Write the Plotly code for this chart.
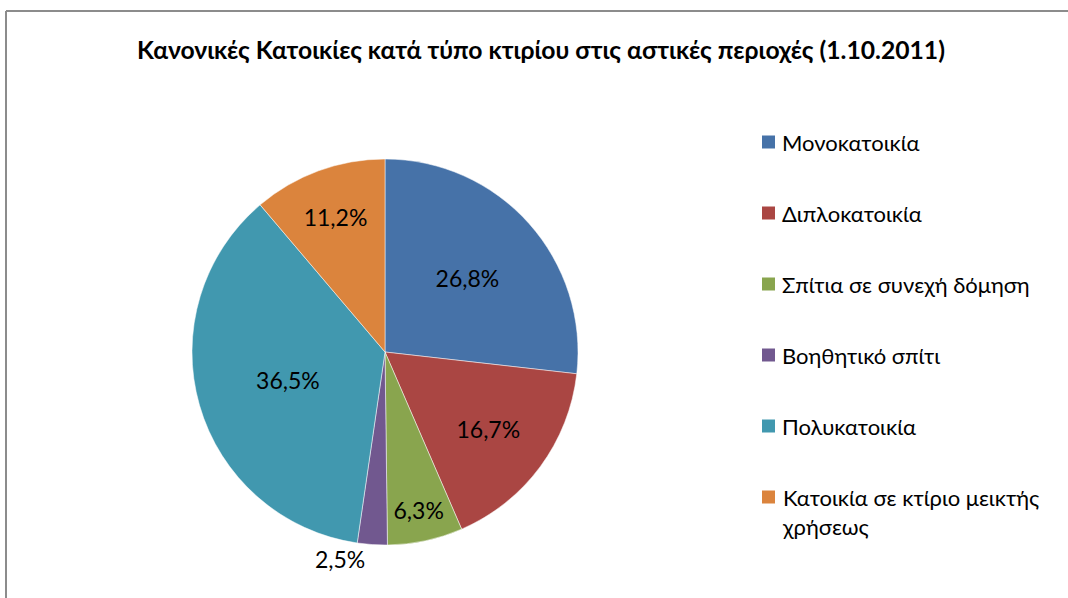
import plotly.graph_objects as go

TITLE = "Κανονικές Κατοικίες κατά τύπο κτιρίου στις αστικές περιοχές (1.10.2011)"
LABELS = ["Μονοκατοικία", "Διπλοκατοικία", "Σπίτια σε συνεχή δόμηση",
          "Βοηθητικό σπίτι", "Πολυκατοικία", "Κατοικία σε κτίριο μεικτής<br>χρήσεως"]
VALUES = [26.8, 16.7, 6.3, 2.5, 36.5, 11.2]
COLORS = ["#4672A8", "#AA4643", "#89A54E", "#71588F", "#4198AF", "#DB843D"]
TEXTPOS = ["inside", "inside", "inside", "outside", "inside", "inside"]

W, H = 1068, 598
FONT = "Lato, 'Open Sans', sans-serif"

# pie placement in pixels (centre + radius), converted to paper fractions
cx, cy, r = 385, 352, 193

fig = go.Figure(go.Pie(
    labels=[l.replace("<br>", " ") for l in LABELS], values=VALUES,
    marker=dict(colors=COLORS, line=dict(color="white", width=0.5)),
    sort=False, direction="clockwise", rotation=0,
    texttemplate="%{percent:.1%}", textposition=TEXTPOS,
    insidetextorientation="horizontal",
    textfont=dict(family=FONT, size=23, color="black"),
    domain=dict(x=[(cx - r) / W, (cx + r) / W], y=[(H - cy - r) / H, (H - cy + r) / H]),
    showlegend=False, hoverinfo="label+percent",
))

# chart frame: only the top and left edges fall inside the picture
frame = dict(color="#8c8c8c", width=2)
shapes = [dict(type="line", xref="paper", yref="paper", x0=6 / W, x1=1, y0=1 - 11 / H, y1=1 - 11 / H, line=frame),
          dict(type="line", xref="paper", yref="paper", x0=6 / W, x1=6 / W, y0=0, y1=1 - 11 / H, line=frame)]

# legend drawn by hand: square + label, evenly spaced like the original
annotations = []
for i, (lab, col) in enumerate(zip(LABELS, COLORS)):
    yc = 142 + 71 * i
    shapes.append(dict(type="rect", xref="paper", yref="paper",
                       x0=762 / W, x1=775 / W, y0=1 - (yc + 6.5) / H, y1=1 - (yc - 6.5) / H,
                       fillcolor=col, line=dict(width=0)))
    annotations.append(dict(xref="paper", yref="paper", x=780 / W, y=1 - (yc - 15) / H,
                            xanchor="left", yanchor="top", align="left", showarrow=False,
                            text=lab, font=dict(family=FONT, size=22, color="black")))

fig.update_layout(
    width=W, height=H, separators=",.",
    paper_bgcolor="white", plot_bgcolor="white",
    margin=dict(l=0, r=0, t=0, b=0),
    title=dict(text="<b>" + TITLE + "</b>", x=541 / W, xanchor="center", y=1 - 50 / H, yanchor="middle",
               font=dict(family=FONT, size=24.7, color="black")),
    shapes=shapes, annotations=annotations,
)

fig.write_html("out.html", config={"displayModeBar": False},
               post_script="document.body.style.margin='0';document.body.style.overflow='hidden';")
